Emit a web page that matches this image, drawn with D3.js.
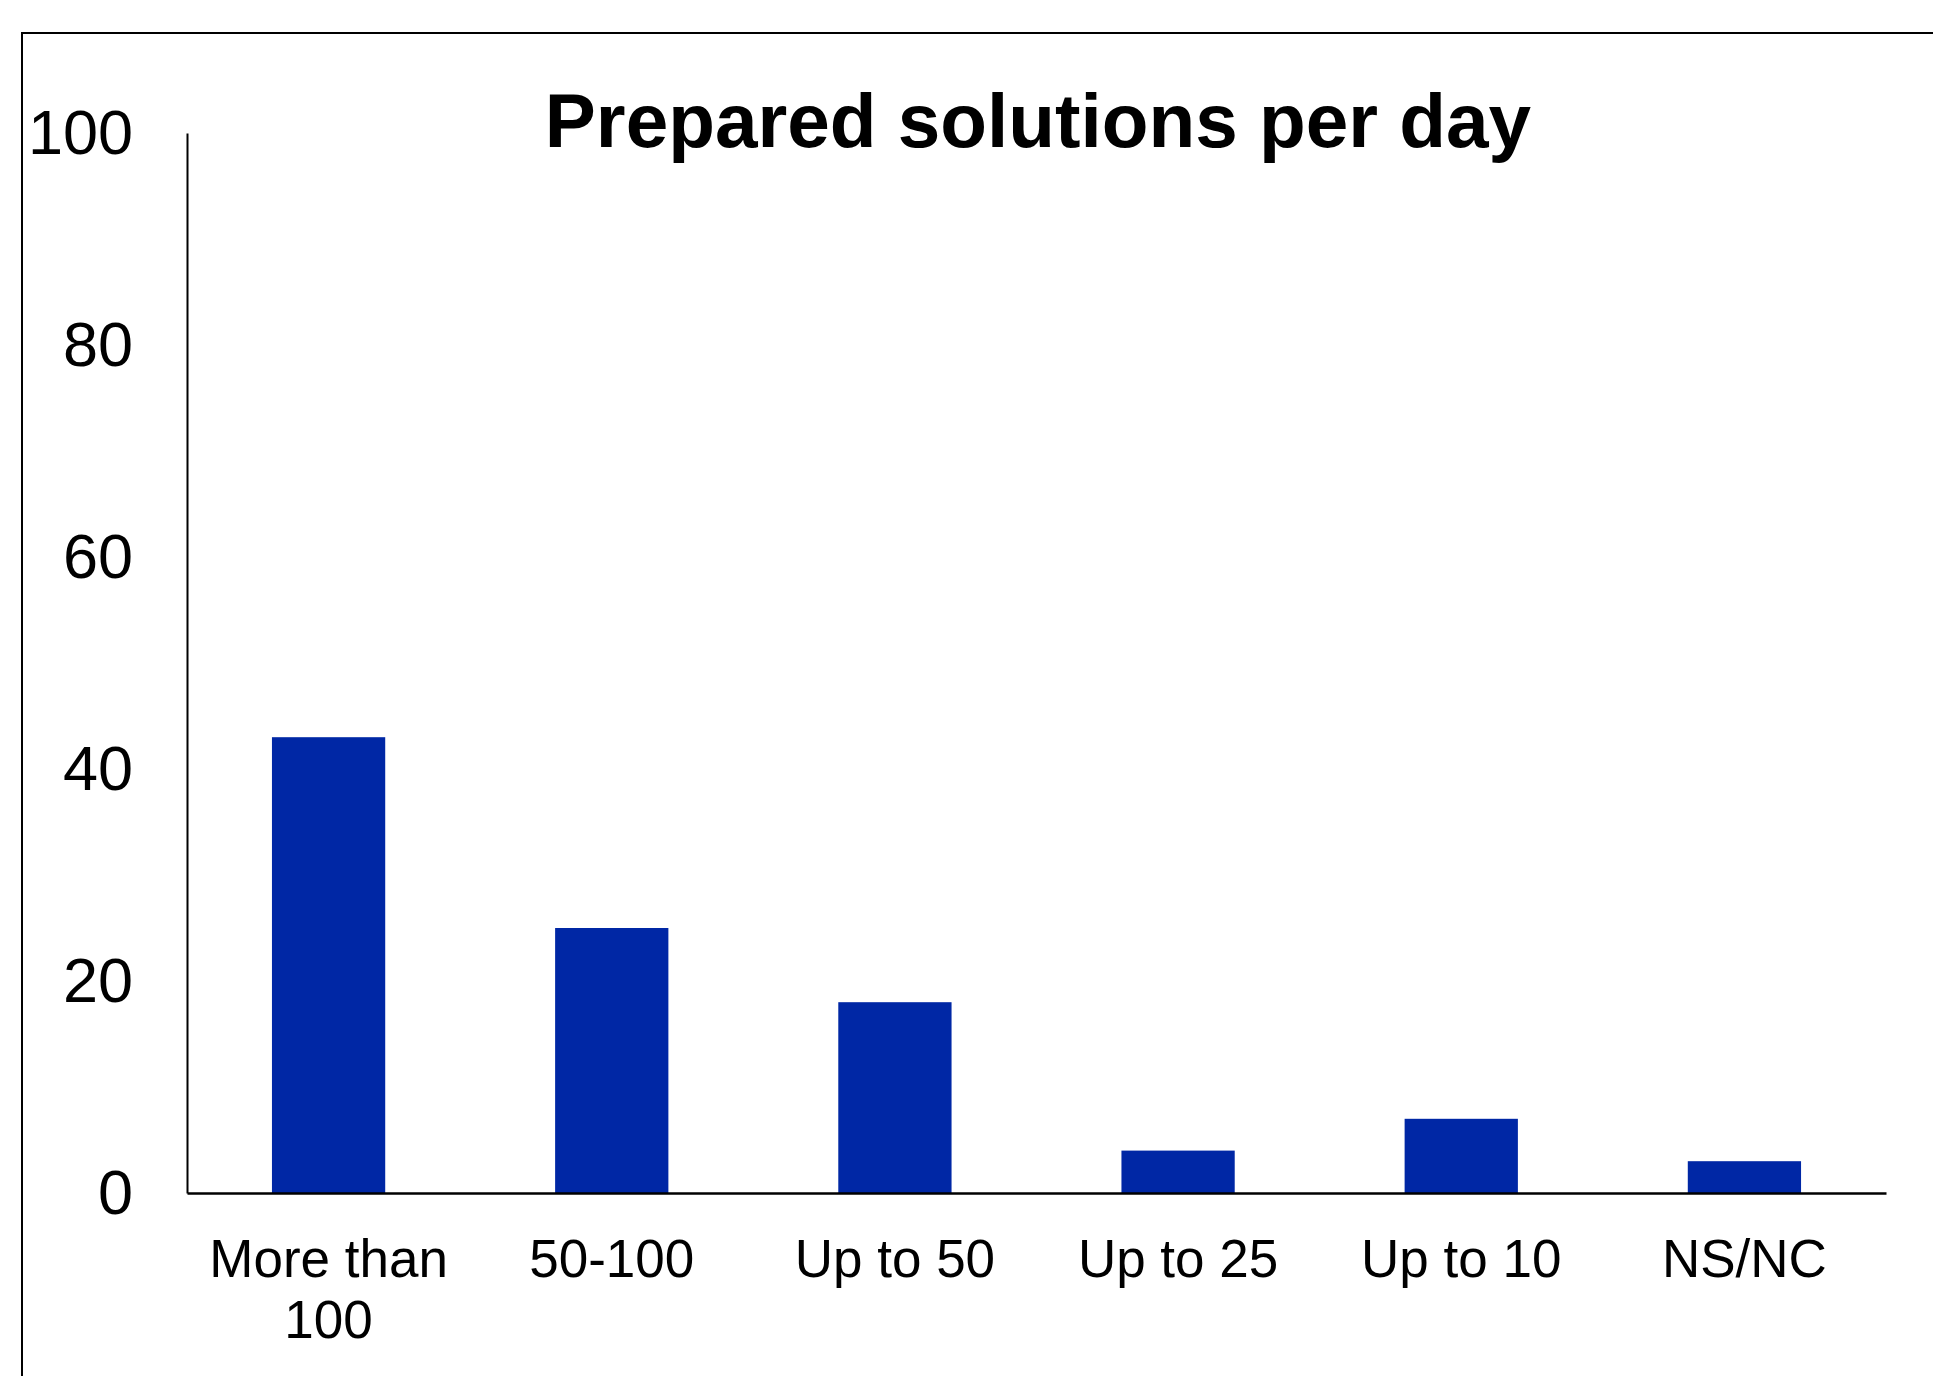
<!DOCTYPE html>
<html>
<head>
<meta charset="utf-8">
<script src="https://cdn.jsdelivr.net/npm/d3@7"></script>
<style>
  html, body { margin: 0; padding: 0; background: #fff; }
  svg { display: block; }
  text { font-family: "Liberation Sans", Arial, sans-serif; fill: #000; }
</style>
</head>
<body>
<script>
const title = "Prepared solutions per day";
const categories = ["More than 100", "50-100", "Up to 50", "Up to 25", "Up to 10", "NS/NC"];
const values = [43, 25, 18, 4, 7, 3];
const yTicks = [0, 20, 40, 60, 80, 100];

const W = 1933, H = 1376;
const mLeft = 187, mRight = 1886, mTop = 133, mBottom = 1193;

const svg = d3.select("body").append("svg").attr("width", W).attr("height", H);

// outer frame (cut off at right and bottom)
svg.append("rect")
  .attr("x", 22).attr("y", 33)
  .attr("width", W + 50).attr("height", H + 50)
  .attr("fill", "none").attr("stroke", "#000").attr("stroke-width", 2);

const x = d3.scaleBand().domain(categories).range([mLeft, mRight])
  .paddingInner(0.6).paddingOuter(0.3);
const y = d3.scaleLinear().domain([0, 100]).range([mBottom, mTop]);

// bars
svg.append("g").selectAll("rect").data(values).join("rect")
  .attr("x", (d, i) => x(categories[i]))
  .attr("y", d => y(d))
  .attr("width", x.bandwidth())
  .attr("height", d => y(0) - y(d))
  .attr("fill", "#0027a5");

// y axis
const yAxis = svg.append("g").attr("transform", `translate(${mLeft},0)`)
  .call(d3.axisLeft(y).tickValues(yTicks).tickSize(0).tickPadding(54).tickFormat(d3.format("d")));
yAxis.select(".domain").attr("stroke", "#000").attr("stroke-width", 2);
yAxis.selectAll("text")
  .style("font-family", '"Liberation Sans", Arial, sans-serif')
  .style("font-size", "63px").attr("fill", "#000");

// x axis
const xAxis = svg.append("g").attr("transform", `translate(0,${mBottom})`)
  .call(d3.axisBottom(x).tickSize(0).tickFormat(""));
xAxis.select(".domain").attr("stroke", "#000").attr("stroke-width", 2.5);

// category labels with word wrapping
const labelG = svg.append("g");
const step = x.step();
categories.forEach(c => {
  const cx = x(c) + x.bandwidth() / 2;
  const t = labelG.append("text")
    .attr("x", cx).attr("y", 1277)
    .attr("text-anchor", "middle")
    .style("font-size", "53px");
  const words = c.split(" ");
  let line = [];
  let tspan = t.append("tspan").attr("x", cx);
  words.forEach(w => {
    line.push(w);
    tspan.text(line.join(" "));
    if (tspan.node().getComputedTextLength() > step * 1.0 && line.length > 1) {
      line.pop();
      tspan.text(line.join(" "));
      line = [w];
      tspan = t.append("tspan").attr("x", cx).attr("dy", 61).text(w);
    }
  });
});

// title
svg.append("text")
  .attr("x", 1038).attr("y", 147)
  .attr("text-anchor", "middle")
  .style("font-size", "76.5px").style("font-weight", "bold")
  .text(title);
</script>
</body>
</html>
